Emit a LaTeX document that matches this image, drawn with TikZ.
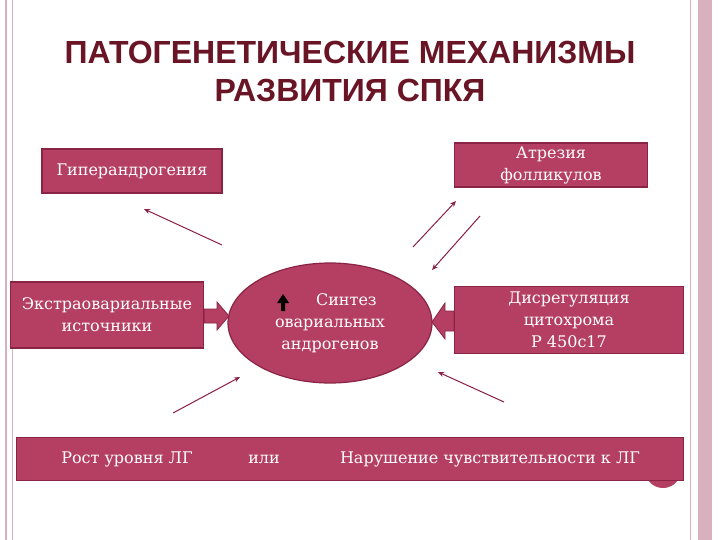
\documentclass[tikz,border=0pt]{standalone}
\usepackage{fontspec}
\setmainfont{DejaVu Serif}
\newfontfamily\titlefont{Liberation Sans}
\usetikzlibrary{shapes.geometric,arrows.meta}
\definecolor{boxc}{HTML}{B53F62}
\definecolor{boxd}{HTML}{8A2445}
\definecolor{titc}{HTML}{6A1526}
\definecolor{linec}{HTML}{8B1F45}
\definecolor{frame}{HTML}{D9B0BE}
\begin{document}
\begin{tikzpicture}[x=1pt,y=-1pt,
  box/.style={draw=boxd,line width=1.2pt,fill=boxc,text=white,font=\fontsize{16}{22}\selectfont,align=center,inner sep=0pt},
  conn/.style={draw=linec,line width=1pt,-{Stealth[length=6pt,width=5pt]}},
  blk/.style={fill=boxc,draw=boxd,line width=0.8pt}]
\useasboundingbox (0,0) rectangle (720,540);
\fill[white] (0,0) rectangle (720,540);
\draw[frame,line width=2pt] (6,0) -- (6,540);
\draw[frame,line width=1pt] (12,0) -- (12,540);
\draw[frame,line width=1pt] (690,0) -- (690,540);
\fill[frame] (698,0) rectangle (712,540);
\node[font=\titlefont\bfseries\fontsize{32}{38}\selectfont,text=titc,align=center] (title) at (350,71) {ПАТОГЕНЕТИЧЕСКИЕ МЕХАНИЗМЫ\\РАЗВИТИЯ СПКЯ};
\node[box,minimum width=180pt,minimum height=44pt] (hyper) at (132,171) {Гиперандрогения};
\node[box,minimum width=193pt,minimum height=44pt] (atr) at (551,165) {Атрезия\\фолликулов};
\node[box,minimum width=193pt,minimum height=66pt] (extra) at (107,315) {Экстраовариальные\\источники};
\node[box,minimum width=229pt,minimum height=67pt] (dis) at (569,320) {Дисрегуляция\\цитохрома\\Р 450с17};
\node[ellipse,draw=boxd,line width=1.2pt,fill=boxc,minimum width=204pt,minimum height=120pt] (syn) at (330,323) {};
\node[text=white,font=\fontsize{16}{22}\selectfont,align=center] (syntxt) at (330,323) {\phantom{MM}Синтез\\овариальных\\андрогенов};
\fill[black] (283,294) -- (277,303) -- (281,303) -- (281,311) -- (285,311) -- (285,303) -- (289,303) -- cycle;
\fill[boxc] (663,470) circle (18);
\node[box,minimum width=667pt,minimum height=43pt] (bar) at (350,459) {};
\node[text=white,font=\fontsize{16}{17}\selectfont] (lg) at (127,459) {Рост уровня ЛГ};
\node[text=white,font=\fontsize{16}{17}\selectfont] (or) at (264,459) {или};
\node[text=white,font=\fontsize{16}{17}\selectfont] (nar) at (490,459) {Нарушение чувствительности к ЛГ};
\coordinate (a1) at (222,245); \coordinate (a1e) at (144,209);
\coordinate (a2) at (413,247); \coordinate (a2e) at (456,201);
\coordinate (a3) at (480,216); \coordinate (a3e) at (432,270);
\coordinate (a4) at (173,413); \coordinate (a4e) at (240,377);
\coordinate (a5) at (504,402); \coordinate (a5e) at (438,372);
\draw[conn] (a1) -- (a1e);
\draw[conn] (a2) -- (a2e);
\draw[conn] (a3) -- (a3e);
\draw[conn] (a4) -- (a4e);
\draw[conn] (a5) -- (a5e);
\draw[blk] (extra.east|-0,309) -- (217,309) -- (217,302) -- (229,316) -- (217,330) -- (217,323) -- (extra.east|-0,323) -- cycle;
\draw[blk] (dis.west|-0,311) -- (445,311) -- (445,303) -- (432,322) -- (445,339) -- (445,331) -- (dis.west|-0,331) -- cycle;
\end{tikzpicture}
\end{document}
